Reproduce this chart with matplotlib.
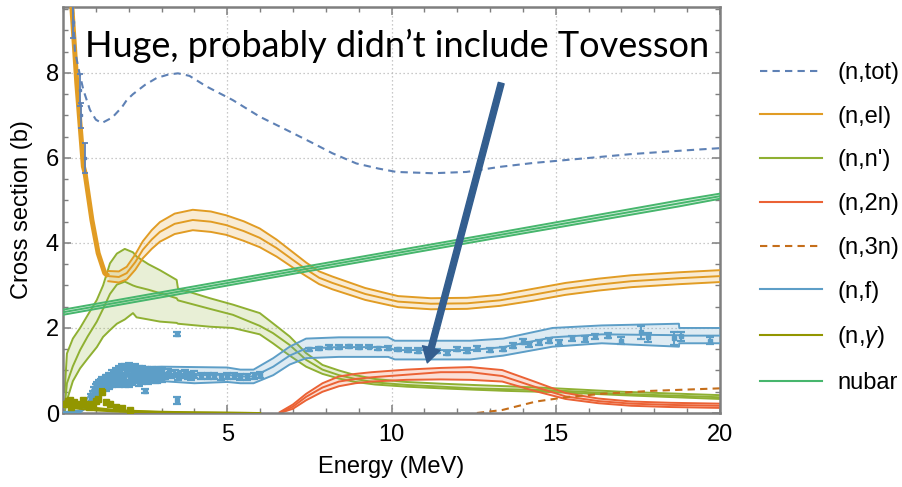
import numpy as np
import matplotlib
matplotlib.use("Agg")
import matplotlib.pyplot as plt
from matplotlib.lines import Line2D
from matplotlib.ticker import MultipleLocator

# ---------------- colours ----------------
C_TOT = "#5E81B5"
C_EL = "#E19C24"
C_INL = "#8FB032"
C_2N = "#EB6235"
C_3N = "#C56E1A"
C_FIS = "#5D9EC7"
C_CAP = "#929600"
C_NU = "#47B66D"
C_ARROW = "#335E8F"

# ---------------- (n,tot) evaluation ----------------
tot_E = [0.3, 0.36, 0.5, 0.62, 0.82, 1.0, 1.18, 1.5, 1.8, 1.94, 2.13, 2.5, 2.85, 3.2, 3.5,
         3.85, 4.37, 5.17, 5.99, 6.8, 7.6, 8.2, 8.93, 9.6, 10.15, 11.25, 12.28, 13.3, 14.3,
         15.3, 16.3, 17.3, 18.4, 19.2, 20.0]
tot_xs = [9.55, 8.54, 8.0, 7.6, 7.13, 6.9, 6.82, 6.95, 7.2, 7.36, 7.5, 7.72, 7.88, 7.96, 7.99,
          7.93, 7.68, 7.36, 6.97, 6.66, 6.35, 6.11, 5.87, 5.75, 5.67, 5.64, 5.67, 5.79, 5.88,
          5.95, 6.02, 6.09, 6.15, 6.19, 6.23]
# (n,tot) measurements
tot_dE = [0.29, 0.52, 0.56, 0.67]
tot_dxs = [9.2, 7.6, 7.0, 6.0]
tot_derr = [0.37, 0.38, 0.3, 0.35]

# ---------------- (n,el) ----------------
el_lowE = [0.22, 0.27, 0.42, 0.62, 0.67, 0.88, 1.07, 1.27, 1.38]
el_lowxs = [10.3, 9.55, 7.76, 5.8, 5.65, 4.54, 3.76, 3.29, 3.22]
el_E = [1.38, 1.7, 1.94, 2.2, 2.43, 2.7, 2.95, 3.4, 3.95, 4.5, 4.97, 5.5, 5.99, 6.5, 7.0,
        7.4, 7.8, 8.2, 9.2, 10.2, 11.2, 12.3, 13.3, 14.3, 15.3, 16.3, 17.3, 18.75, 20.0]
el_xs = [3.22, 3.2, 3.29, 3.55, 3.84, 4.08, 4.26, 4.45, 4.54, 4.5, 4.42, 4.28, 4.12, 3.88, 3.6,
         3.38, 3.18, 3.06, 2.8, 2.62, 2.57, 2.58, 2.65, 2.78, 2.92, 3.02, 3.1, 3.17, 3.22]
el_unc = [0.12, 0.13, 0.15, 0.18, 0.2, 0.22, 0.23, 0.24, 0.24, 0.24, 0.23, 0.23, 0.22, 0.2, 0.18,
          0.16, 0.15, 0.15, 0.14, 0.13, 0.13, 0.13, 0.13, 0.14, 0.14, 0.14, 0.14, 0.14, 0.14]

# ---------------- (n,n') ----------------
inl_E = [0.05, 0.12, 0.3, 0.52, 0.75, 1.03, 1.22, 1.43, 1.64, 1.88, 2.13, 2.24, 2.6, 2.95,
         3.46, 3.5, 4.47, 5.17, 5.99, 6.39, 6.9, 7.4, 7.9, 8.4, 8.9, 9.5, 10.45, 11.5, 12.46,
         13.5, 15.0, 17.0, 20.0]
inl_hi = [0.5, 1.4, 1.75, 2.0, 2.3, 2.66, 3.0, 3.52, 3.75, 3.86, 3.78, 3.68, 3.5, 3.36,
          3.13, 2.93, 2.7, 2.55, 2.35, 2.11, 1.8, 1.41, 1.13, 1.0, 0.89, 0.8, 0.73, 0.69, 0.66,
          0.63, 0.58, 0.5, 0.42]
inl_mid = [0.15, 0.7, 1.1, 1.48, 1.8, 2.15, 2.45, 2.8, 3.02, 3.09, 3.0, 2.97, 2.9, 2.82,
           2.7, 2.65, 2.45, 2.31, 2.05, 1.88, 1.6, 1.25, 1.02, 0.89, 0.8, 0.72, 0.66, 0.62, 0.58,
           0.56, 0.53, 0.45, 0.37]
inl_lo = [0.0, 0.3, 0.75, 1.05, 1.28, 1.55, 1.79, 1.95, 2.1, 2.2, 2.35, 2.25, 2.2, 2.15,
          2.12, 2.1, 2.03, 2.0, 1.85, 1.64, 1.35, 1.09, 0.92, 0.81, 0.73, 0.67, 0.62, 0.58, 0.55,
          0.52, 0.49, 0.42, 0.33]

# ---------------- (n,2n) ----------------
n2n_E = [6.6, 7.0, 7.4, 7.9, 8.4, 8.9, 9.4, 10.45, 11.5, 12.4, 13.37, 14.35, 15.3, 16.3,
         17.3, 18.5, 20.0]
n2n_hi = [0.02, 0.2, 0.45, 0.7, 0.86, 0.92, 0.96, 1.02, 1.06, 1.08, 1.01, 0.74, 0.47, 0.34,
          0.27, 0.24, 0.22]
n2n_mid = [0.0, 0.15, 0.38, 0.6, 0.74, 0.8, 0.84, 0.9, 0.96, 0.96, 0.87, 0.62, 0.39, 0.28,
           0.22, 0.19, 0.17]
n2n_lo = [0.0, 0.1, 0.3, 0.5, 0.63, 0.7, 0.74, 0.78, 0.79, 0.78, 0.74, 0.52, 0.33, 0.23,
          0.17, 0.14, 0.12]

# ---------------- (n,3n) ----------------
n3n_E = [12.6, 13.37, 14.4, 15.4, 16.4, 17.9, 20.0]
n3n_xs = [0.0, 0.07, 0.27, 0.38, 0.45, 0.52, 0.58]

# ---------------- (n,f) ----------------
fis_E = [0.0, 0.5, 0.8, 1.0, 1.2, 1.5, 2.0, 2.5, 3.0, 4.0, 5.0, 5.4, 5.8, 6.4, 6.9, 7.4, 8.4,
         9.9, 10.1, 12.4, 13.4, 14.9, 16.4, 18.75, 18.76, 20.0]
fis_xs = [0.0, 0.03, 0.3, 0.55, 0.68, 0.78, 0.86, 0.9, 0.92, 0.89, 0.9, 0.86, 0.86, 1.09, 1.35,
          1.52, 1.55, 1.55, 1.48, 1.48, 1.55, 1.78, 1.85, 1.83, 1.82, 1.82]
fis_unc = [0.02, 0.03, 0.12, 0.16, 0.18, 0.18, 0.18, 0.18, 0.17, 0.19, 0.17, 0.16, 0.16, 0.2,
           0.21, 0.23, 0.23, 0.23, 0.22, 0.22, 0.2, 0.22, 0.21, 0.27, 0.18, 0.18]
# (n,f) measurements: dense low-energy set, a few outliers, and the high-energy set
fis_dE = [0.85, 0.9, 0.95, 1.0, 1.05, 1.1, 1.15, 1.2, 1.25, 1.3, 1.35, 1.4, 1.45, 1.5, 1.55,
          1.6, 1.65, 1.7, 1.75, 1.8, 1.85, 1.9, 1.95, 2.0, 2.05, 2.1, 2.15, 2.2, 2.25, 2.3,
          2.35, 2.4, 2.45, 2.5, 2.55, 2.6, 2.65, 2.7, 2.75, 2.8, 2.85, 2.9, 2.95, 3.0, 3.1,
          3.2, 3.3, 3.4, 3.5, 3.6, 3.7, 3.8, 3.9, 4.0, 4.2, 4.4, 4.6, 4.8, 5.0, 5.2, 5.4, 5.6,
          5.8, 6.0,
          1.0, 1.1, 1.2, 1.3, 1.4, 1.5, 1.6, 1.7, 1.8, 1.9, 2.0, 2.1, 2.2, 2.3, 2.4, 2.5, 2.6,
          2.7, 2.8, 2.9, 3.0,
          2.49, 3.46, 3.46,
          7.5, 7.8, 8.1, 8.4, 8.7, 9.0, 9.3, 9.6, 9.9, 10.2, 10.5, 10.8, 11.1, 11.4, 11.7, 12.0,
          12.3, 12.6, 13.0, 13.4, 13.7, 14.0, 14.2, 14.5, 14.8, 15.1, 15.5, 15.9, 16.2, 16.6,
          17.0, 17.6, 17.8, 18.6, 18.8, 19.7]
fis_dxs = [0.35, 0.42, 0.5, 0.58, 0.62, 0.68, 0.7, 0.75, 0.72, 0.8, 0.8, 0.85, 0.85, 0.9, 0.88,
           0.95, 0.92, 1.0, 0.95, 1.05, 0.85, 1.05, 1.0, 1.08, 0.82, 1.0, 1.02, 1.05, 0.9, 1.0,
           0.95, 1.02, 0.83, 1.0, 1.0, 0.95, 0.88, 1.0, 0.92, 0.98, 0.8, 0.96, 0.95, 0.98, 0.87,
           0.95, 0.9, 0.92, 0.85, 0.9, 0.92, 0.88, 0.86, 0.9, 0.88, 0.87, 0.86, 0.85, 0.87, 0.86,
           0.84, 0.85, 0.86, 0.9,
           0.45, 0.5, 0.55, 0.6, 0.65, 0.68, 0.72, 0.7, 0.75, 0.68, 0.7, 0.74, 0.78, 0.72, 0.76,
           0.8, 0.76, 0.8, 0.78, 0.82, 0.8,
           0.52, 1.86, 0.3,
           1.5, 1.52, 1.55, 1.55, 1.57, 1.55, 1.56, 1.52, 1.53, 1.5, 1.48, 1.47, 1.5, 1.45,
           1.42, 1.5, 1.47, 1.52, 1.48, 1.5, 1.58, 1.68, 1.62, 1.66, 1.7, 1.66, 1.76, 1.74,
           1.8, 1.82, 1.7, 1.9, 1.78, 1.76, 1.8, 1.7]
fis_derr = [0.1, 0.1, 0.1, 0.1, 0.1, 0.1, 0.1, 0.1, 0.1, 0.1, 0.1, 0.1, 0.1, 0.1, 0.1,
            0.1, 0.1, 0.1, 0.1, 0.1, 0.1, 0.1, 0.1, 0.1, 0.1, 0.1, 0.1, 0.1, 0.1, 0.1,
            0.09, 0.09, 0.09, 0.09, 0.09, 0.09, 0.09, 0.09, 0.09, 0.09, 0.09, 0.09, 0.09, 0.09,
            0.08, 0.08, 0.08, 0.08, 0.08, 0.08, 0.08, 0.08, 0.08, 0.08, 0.07, 0.07, 0.07, 0.07,
            0.07, 0.07, 0.07, 0.07, 0.07, 0.07,
            0.08, 0.08, 0.08, 0.08, 0.08, 0.08, 0.08, 0.08, 0.08, 0.08, 0.08, 0.08, 0.08, 0.08,
            0.08, 0.08, 0.08, 0.08, 0.08, 0.08, 0.08,
            0.05, 0.04, 0.08,
            0.04, 0.04, 0.04, 0.04, 0.04, 0.04, 0.04, 0.04, 0.04, 0.04, 0.05, 0.05, 0.05, 0.05,
            0.05, 0.05, 0.05, 0.05, 0.05, 0.05, 0.06, 0.06, 0.06, 0.06, 0.06, 0.06, 0.06, 0.06,
            0.06, 0.06, 0.08, 0.15, 0.1, 0.15, 0.1, 0.08]

# ---------------- (n,gamma) ----------------
cap_E = [0.05, 0.3, 0.6, 1.0, 1.5, 2.0, 3.0, 4.0, 6.0]
cap_xs = [0.22, 0.17, 0.13, 0.09, 0.06, 0.04, 0.02, 0.01, 0.0]
cap_unc = [0.05, 0.05, 0.04, 0.03, 0.02, 0.015, 0.01, 0.005, 0.0]
cap_dE = [0.1, 0.15, 0.2, 0.25, 0.3, 0.35, 0.4, 0.5, 0.6, 0.7, 0.8, 0.9, 1.0, 1.07, 1.19,
          1.3, 1.43, 1.6, 1.8, 2.05]
cap_dxs = [0.2, 0.28, 0.3, 0.15, 0.22, 0.25, 0.18, 0.2, 0.3, 0.2, 0.15, 0.22, 0.28, 0.33, 0.5,
           0.25, 0.22, 0.15, 0.12, 0.08]
cap_derr = [0.04, 0.04, 0.04, 0.04, 0.04, 0.04, 0.04, 0.04, 0.04, 0.04, 0.03, 0.03, 0.03, 0.03,
            0.07, 0.03, 0.03, 0.02, 0.02, 0.02]

# ---------------- nubar ----------------
nu_E = [0.0, 7.2, 13.3, 18.75, 20.0]
nu_val = [2.37, 3.36, 4.19, 4.93, 5.1]
nu_unc = [0.06, 0.06, 0.06, 0.07, 0.06]

legend_labels = ["(n,tot)", "(n,el)", "(n,n')", "(n,2n)", "(n,3n)", "(n,f)", "(n,$\\gamma$)", "nubar"]
annotation_text = "Huge, probably didn\u2019t include Tovesson"

# ---------------- figure ----------------
plt.rcParams["font.family"] = ["Liberation Sans", "DejaVu Sans"]
plt.rcParams["mathtext.fontset"] = "custom"
plt.rcParams["mathtext.it"] = "Liberation Sans:italic"

fig = plt.figure(figsize=(9.02, 4.87), dpi=100)
ax = fig.add_axes([63 / 902, 74 / 487, 657 / 902, 406 / 487])

LW = 1.4
DASH = (0, (3.5, 2.5))


def band(E, lo, mid, hi, color, z):
    E = np.asarray(E)
    ax.fill_between(E, lo, hi, color=color, alpha=0.2, lw=0, zorder=z)
    for yv in (lo, mid, hi):
        ax.plot(E, yv, color=color, lw=LW, zorder=z + 0.1, solid_joinstyle="round")


def sym_band(E, mid, unc, color, z):
    mid = np.asarray(mid)
    unc = np.asarray(unc)
    band(E, mid - unc, mid, mid + unc, color, z)


# total
ax.plot(tot_E, tot_xs, color=C_TOT, lw=1.5, ls=DASH, zorder=3)
ax.errorbar(tot_dE, tot_dxs, yerr=tot_derr, fmt="s", ms=2, color=C_TOT, ecolor=C_TOT,
            elinewidth=1.3, capsize=2.5, capthick=1.3, zorder=3.5)

# elastic
ax.plot(el_lowE, el_lowxs, color=C_EL, lw=3.6, zorder=2.6, solid_capstyle="butt")
sym_band(el_E, el_xs, el_unc, C_EL, 2.5)

# inelastic
band(inl_E, inl_lo, inl_mid, inl_hi, C_INL, 2.2)

# (n,2n)
band(n2n_E, n2n_lo, n2n_mid, n2n_hi, C_2N, 2.3)

# (n,3n)
ax.plot(n3n_E, n3n_xs, color=C_3N, lw=1.5, ls=DASH, zorder=2.4)

# fission
sym_band(fis_E, fis_xs, fis_unc, C_FIS, 2.7)
ax.errorbar(fis_dE, fis_dxs, yerr=fis_derr, fmt="s", ms=3, color=C_FIS, ecolor=C_FIS,
            elinewidth=1.4, capsize=3, capthick=1.6, zorder=2.9)

# capture
sym_band(cap_E, cap_xs, cap_unc, C_CAP, 3.0)
ax.errorbar(cap_dE, cap_dxs, yerr=cap_derr, fmt="s", ms=4, color=C_CAP, ecolor=C_CAP,
            elinewidth=1.2, capsize=2.5, capthick=1.5, zorder=3.1)

# nubar
sym_band(nu_E, nu_val, nu_unc, C_NU, 3.2)

# axes styling
ax.set_xlim(0, 20)
ax.set_ylim(0, 9.55)
ax.xaxis.set_major_locator(MultipleLocator(5))
ax.xaxis.set_minor_locator(MultipleLocator(1))
ax.yaxis.set_major_locator(MultipleLocator(2))
ax.yaxis.set_minor_locator(MultipleLocator(0.5))
ax.set_xticks([5, 10, 15, 20])
ax.grid(True, which="major", color="#b8b8b8", lw=0.9, ls=(0, (1, 2.2)), zorder=0)
FRAME = "#7f7f7f"
for sp in ax.spines.values():
    sp.set_color(FRAME)
    sp.set_linewidth(1.8)
ax.tick_params(which="both", direction="in", top=True, right=True, color=FRAME,
               labelsize=17, labelcolor="black")
ax.tick_params(which="major", length=5.5, width=1.1)
ax.tick_params(which="minor", length=3.5, width=1.0)
ax.tick_params(axis="x", pad=8)
ax.tick_params(axis="y", pad=3)

ax.set_xlabel("Energy (MeV)", fontsize=17)
ax.set_ylabel("Cross section (b)", fontsize=17)
ax.xaxis.set_label_coords(0.5, -0.105)
ax.yaxis.set_label_coords(-0.045, 0.5)

# annotation
ax.text(0.67, 8.38, annotation_text, fontsize=26, family=["Lato", "DejaVu Sans"],
        ha="left", va="baseline", color="black", zorder=6)
ax.annotate("", xy=(11.09, 1.18), xytext=(13.34, 7.76),
            arrowprops=dict(color=C_ARROW, width=4.3, headwidth=13, headlength=11, shrink=0),
            zorder=6)

# legend
handles = [
    Line2D([], [], color=C_TOT, lw=1.5, ls=DASH),
    Line2D([], [], color=C_EL, lw=1.5),
    Line2D([], [], color=C_INL, lw=1.5),
    Line2D([], [], color=C_2N, lw=1.5),
    Line2D([], [], color=C_3N, lw=1.5, ls=DASH),
    Line2D([], [], color=C_FIS, lw=1.5),
    Line2D([], [], color=C_CAP, lw=1.5),
    Line2D([], [], color=C_NU, lw=1.5),
]
fig.legend(handles, legend_labels, loc="upper left", bbox_to_anchor=(760 / 902, 1 - 62 / 487),
           frameon=False, fontsize=17, handlelength=2.63, handletextpad=0.64,
           labelspacing=0.92, borderpad=0, borderaxespad=0)

fig.savefig("out.png", dpi=100)
